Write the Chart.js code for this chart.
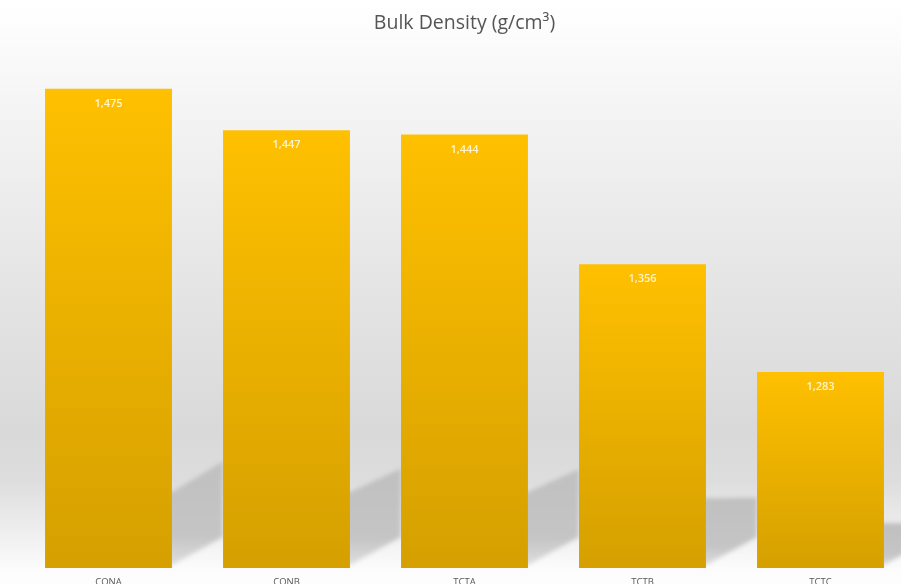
<!DOCTYPE html>
<html>
<head>
<meta charset="utf-8">
<title>Bulk Density</title>
<script src="https://cdn.jsdelivr.net/npm/chart.js@4.4.1/dist/chart.umd.min.js"></script>
<style>
  html, body { margin: 0; padding: 0; overflow: hidden; background: #ffffff; width: 901px; height: 584px; }
  #wrap { width: 928px; height: 600px; }
</style>
</head>
<body>
<div id="wrap"><canvas id="chart" width="928" height="600"></canvas></div>
<script>
// Samples and their measured bulk density (g/cm³)
const categories = ['CONA', 'CONB', 'TCTA', 'TCTB', 'TCTC'];
const bulkDensity = [1.475, 1.447, 1.444, 1.356, 1.283];

// Value axis range (axis itself is hidden)
const axisMin = 1.15;
const axisMax = 1.5;

const formatValue = v => v.toFixed(3).replace('.', ',');

// Soft grey "studio" backdrop behind the plot
const backdrop = {
  id: 'backdrop',
  beforeDraw(chart) {
    const { ctx, width, height } = chart;
    const g = ctx.createLinearGradient(0, 0, 0, height);
    g.addColorStop(0.00, '#ffffff');
    g.addColorStop(0.04, '#fdfdfd');
    g.addColorStop(0.20, '#f3f3f3');
    g.addColorStop(0.45, '#e6e6e6');
    g.addColorStop(0.72, '#d9d9d9');
    g.addColorStop(0.80, '#dddddd');
    g.addColorStop(0.90, '#f1f1f1');
    g.addColorStop(0.95, '#fcfcfc');
    g.addColorStop(1.00, '#ffffff');
    ctx.save();
    ctx.fillStyle = g;
    ctx.fillRect(0, 0, width, height);
    ctx.restore();
  }
};

// Cast shadows falling to the right of each bar
const barShadows = {
  id: 'barShadows',
  beforeDatasetsDraw(chart) {
    const { ctx, chartArea } = chart;
    const meta = chart.getDatasetMeta(0);
    ctx.save();
    ctx.filter = 'blur(2px)';
    meta.data.forEach(bar => {
      const R = bar.x + bar.width / 2;
      const B = Math.min(bar.base, chartArea.bottom);
      const h = B - bar.y;
      const d1 = Math.min(76, 0.23 * h);
      const rise = Math.max(0, 0.17 * (h - 300));
      const run = 51;
      const g = ctx.createLinearGradient(0, B - d1 - rise, 0, B);
      g.addColorStop(0, 'rgb(192,192,192)');
      g.addColorStop(0.7, 'rgb(197,197,197)');
      g.addColorStop(1, 'rgb(225,225,225)');
      ctx.fillStyle = g;
      ctx.beginPath();
      ctx.moveTo(R - 6, B - 3);
      ctx.lineTo(R, B - 3);
      ctx.lineTo(R + run, B - 31);
      ctx.lineTo(R + run, B - d1 - rise);
      ctx.lineTo(R, B - d1);
      ctx.lineTo(R - 6, B - d1);
      ctx.closePath();
      ctx.fill();
    });
    ctx.restore();
  }
};

// Value labels printed inside the top of each bar
const valueLabels = {
  id: 'valueLabels',
  afterDatasetsDraw(chart) {
    const { ctx } = chart;
    const meta = chart.getDatasetMeta(0);
    const data = chart.data.datasets[0].data;
    ctx.save();
    ctx.font = '600 11px "Open Sans", sans-serif';
    ctx.fillStyle = '#fff4cf';
    ctx.textAlign = 'center';
    ctx.textBaseline = 'middle';
    meta.data.forEach((bar, i) => {
      ctx.fillText(formatValue(data[i]), bar.x, bar.y + 15);
    });
    ctx.restore();
  }
};

const barFill = (context) => {
  const chart = context.chart;
  const { chartArea, scales } = chart;
  if (!chartArea || !scales.y || context.raw === undefined) return '#eab200';
  const top = scales.y.getPixelForValue(context.raw);
  const bottom = scales.y.getPixelForValue(axisMin);
  const g = chart.ctx.createLinearGradient(0, top, 0, bottom);
  g.addColorStop(0, '#ffc000');
  g.addColorStop(1, '#d5a000');
  return g;
};

new Chart(document.getElementById('chart'), {
  type: 'bar',
  data: {
    labels: categories,
    datasets: [{
      label: 'Bulk Density (g/cm³)',
      data: bulkDensity,
      backgroundColor: barFill,
      borderWidth: 0,
      barPercentage: 0.713,
      categoryPercentage: 1.0
    }]
  },
  options: {
    responsive: false,
    animation: false,
    devicePixelRatio: 1,
    layout: { padding: { left: 19.5, right: 18.5, top: 0, bottom: 0 } },
    plugins: {
      legend: { display: false },
      tooltip: { enabled: false },
      title: {
        display: true,
        text: 'Bulk Density (g/cm³)',
        color: '#555555',
        font: { family: '"Open Sans", sans-serif', size: 19.5, weight: 'normal' },
        padding: { top: 12, bottom: 16.6 }
      }
    },
    scales: {
      x: {
        grid: { display: false, drawTicks: false },
        border: { display: false },
        ticks: {
          color: '#595959',
          font: { family: '"Open Sans", sans-serif', size: 9.5 },
          padding: 9
        },
        afterFit(scale) { scale.height = 32; }
      },
      y: {
        display: false,
        min: axisMin,
        max: axisMax
      }
    }
  },
  plugins: [backdrop, barShadows, valueLabels]
});
</script>
</body>
</html>
